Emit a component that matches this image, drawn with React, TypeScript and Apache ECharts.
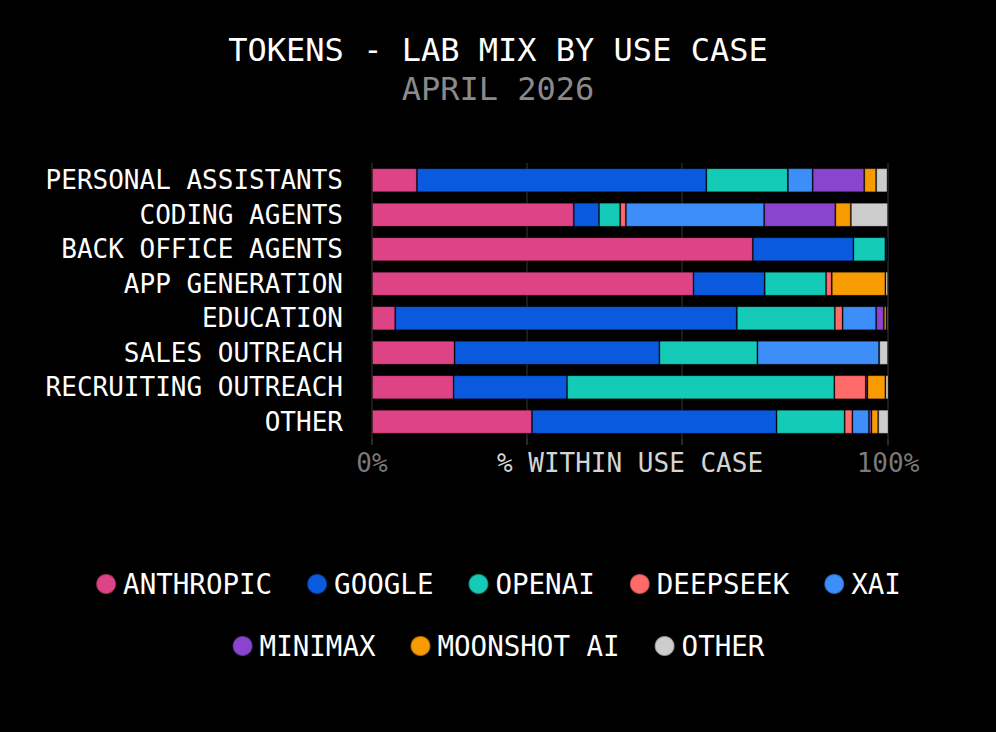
import React, { useEffect, useRef } from "react";
import * as echarts from "echarts";

const categories = [
  "PERSONAL ASSISTANTS",
  "CODING AGENTS",
  "BACK OFFICE AGENTS",
  "APP GENERATION",
  "EDUCATION",
  "SALES OUTREACH",
  "RECRUITING OUTREACH",
  "OTHER",
];

const labs = ["ANTHROPIC", "GOOGLE", "OPENAI", "DEEPSEEK", "XAI", "MINIMAX", "MOONSHOT AI", "OTHER"];

const anthropic = [8.7, 39.1, 73.8, 62.3, 4.5, 16.0, 15.8, 31.0];
const google = [56.1, 4.9, 19.5, 13.8, 66.2, 39.7, 22.0, 47.4];
const openai = [15.8, 4.1, 6.2, 11.9, 19.0, 19.0, 51.8, 13.2];
const deepseek = [0, 1.1, 0, 1.1, 1.5, 0, 6.1, 1.5];
const xai = [4.8, 26.8, 0.3, 0, 6.5, 23.6, 0, 3.2];
const minimax = [10.0, 13.8, 0, 0, 1.5, 0, 0.3, 0.5];
const moonshot = [2.3, 3.0, 0, 10.4, 0.5, 0, 3.5, 1.3];
const otherLab = [2.2, 7.2, 0.2, 0.5, 0.3, 1.7, 0.6, 2.1];

const seriesValues = [anthropic, google, openai, deepseek, xai, minimax, moonshot, otherLab];

const colors = ["#DE4485", "#095ADF", "#13CBB7", "#FF6B6B", "#3D8EF8", "#8A45CF", "#F89B00", "#CDCDCD"];

const gridTicks = [0, 30, 60, 100];
const labelTicks = [0, 100];

const FONT = "'DejaVu Sans Mono', 'Liberation Mono', monospace";

export default function App() {
  const ref = useRef<HTMLDivElement>(null);

  useEffect(() => {
    document.body.style.margin = "0";
    document.body.style.background = "#000";
    const chart = echarts.init(ref.current!, null, { renderer: "svg" });

    const barSeries = labs.map((name, i) => ({
      name,
      type: "bar",
      stack: "total",
      z: 3,
      barCategoryGap: "30%",
      itemStyle: {
        color: colors[i],
        borderColor: "rgba(0,0,0,0.3)",
        borderWidth: 1,
      },
      data: seriesValues[i],
    }));

    const gridSeries = {
      name: "grid",
      type: "bar",
      stack: "total",
      z: 1,
      data: [],
      markLine: {
        silent: true,
        z: 1,
        symbol: "none",
        label: { show: false },
        lineStyle: { color: "#1c1c1c", width: 2, type: "solid" },
        data: gridTicks.map((v) => ({ xAxis: v })),
      },
    };

    const legendText = { color: "#fff", fontSize: 27.5, fontFamily: FONT, padding: [0, 0, 0, 2] };

    chart.setOption({
      animation: false,
      backgroundColor: "#000",
      color: colors,
      title: [
        {
          text: "TOKENS - LAB MIX BY USE CASE",
          left: "center",
          top: 29,
          textStyle: { color: "#ffffff", fontSize: 32, fontWeight: "normal", fontFamily: FONT, lineHeight: 32 },
        },
        {
          text: "APRIL 2026",
          left: "center",
          top: 68,
          textStyle: { color: "#8a8a8a", fontSize: 32, fontWeight: "normal", fontFamily: FONT, lineHeight: 32 },
        },
      ],
      legend: [
        {
          data: labs.slice(0, 5),
          top: 565,
          left: "center",
          icon: "circle",
          itemWidth: 20,
          itemHeight: 20,
          itemGap: 34,
          textStyle: legendText,
        },
        {
          data: labs.slice(5),
          top: 627,
          left: "center",
          icon: "circle",
          itemWidth: 20,
          itemHeight: 20,
          itemGap: 34,
          textStyle: legendText,
        },
      ],
      grid: { left: 372, right: 108, top: 163, bottom: 293, containLabel: false },
      xAxis: {
        type: "value",
        min: 0,
        max: 100,
        name: "% WITHIN USE CASE",
        nameLocation: "middle",
        nameGap: 11,
        nameMoveOverlap: false,
        nameTextStyle: { color: "#d4d4d4", fontSize: 26, fontFamily: FONT, verticalAlign: "top" },
        axisLine: { show: false },
        axisTick: { show: true, customValues: gridTicks, length: 6, lineStyle: { color: "#2a2a2a", width: 2 } },
        axisLabel: {
          customValues: labelTicks,
          color: "#7a7a7a",
          fontSize: 26,
          fontFamily: FONT,
          margin: 11,
          formatter: "{value}%",
        },
        splitLine: { show: false },
      },
      yAxis: {
        type: "category",
        data: categories,
        inverse: true,
        axisLine: { show: false },
        axisTick: { show: false },
        axisLabel: { color: "#fff", fontSize: 26, fontFamily: FONT, margin: 29 },
      },
      series: [gridSeries, ...barSeries],
    });

    return () => chart.dispose();
  }, []);

  return (
    <div
      ref={ref}
      style={{ position: "fixed", left: 0, top: 0, width: 996, height: 732, background: "#000" }}
    />
  );
}
